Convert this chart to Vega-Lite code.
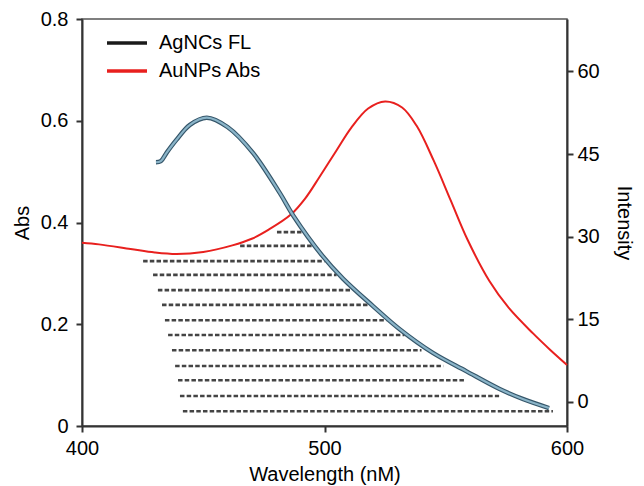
{
  "$schema": "https://vega.github.io/schema/vega-lite/v6.json",
  "width": 485,
  "height": 407,
  "autosize": {"type": "none"},
  "padding": {"left": 82, "top": 19, "right": 77, "bottom": 60},
  "config": {
    "font": "Liberation Sans",
    "view": {"stroke": "#555", "strokeWidth": 1.5},
    "axis": {
      "domainColor": "#333", "domainWidth": 2,
      "tickColor": "#333", "tickWidth": 2, "tickSize": 6,
      "labelFontSize": 20, "titleFontSize": 20, "titleFontWeight": "normal",
      "labelColor": "black", "titleColor": "black", "grid": false
    },
    "legend": {
      "orient": "none", "legendX": 33, "legendY": 12, "padding": 0,
      "labelFontSize": 20, "labelColor": "black", "labelOffset": 20,
      "symbolType": "M-2,0L2,0", "symbolSize": 400, "symbolStrokeWidth": 3.5,
      "rowPadding": 6
    }
  },
  "datasets": {
    "abs": [
      {"series": "AuNPs Abs", "wl": 400, "abs": 0.36},
      {"series": "AuNPs Abs", "wl": 407, "abs": 0.357},
      {"series": "AuNPs Abs", "wl": 420, "abs": 0.348},
      {"series": "AuNPs Abs", "wl": 430, "abs": 0.341},
      {"series": "AuNPs Abs", "wl": 439, "abs": 0.338},
      {"series": "AuNPs Abs", "wl": 450, "abs": 0.342},
      {"series": "AuNPs Abs", "wl": 462, "abs": 0.355},
      {"series": "AuNPs Abs", "wl": 470, "abs": 0.368},
      {"series": "AuNPs Abs", "wl": 477, "abs": 0.386},
      {"series": "AuNPs Abs", "wl": 486, "abs": 0.415},
      {"series": "AuNPs Abs", "wl": 492, "abs": 0.447},
      {"series": "AuNPs Abs", "wl": 498, "abs": 0.49},
      {"series": "AuNPs Abs", "wl": 505, "abs": 0.542},
      {"series": "AuNPs Abs", "wl": 511, "abs": 0.586},
      {"series": "AuNPs Abs", "wl": 518, "abs": 0.624},
      {"series": "AuNPs Abs", "wl": 525, "abs": 0.638},
      {"series": "AuNPs Abs", "wl": 532, "abs": 0.626},
      {"series": "AuNPs Abs", "wl": 538, "abs": 0.59},
      {"series": "AuNPs Abs", "wl": 545, "abs": 0.522},
      {"series": "AuNPs Abs", "wl": 552, "abs": 0.444},
      {"series": "AuNPs Abs", "wl": 559, "abs": 0.366},
      {"series": "AuNPs Abs", "wl": 568, "abs": 0.285},
      {"series": "AuNPs Abs", "wl": 576, "abs": 0.232},
      {"series": "AuNPs Abs", "wl": 586, "abs": 0.182},
      {"series": "AuNPs Abs", "wl": 593, "abs": 0.15},
      {"series": "AuNPs Abs", "wl": 600, "abs": 0.12}
    ],
    "fl": [
      {"wl": 430.5, "int": 43.5},
      {"wl": 432.5, "int": 43.7},
      {"wl": 435, "int": 45.3},
      {"wl": 439, "int": 47.6},
      {"wl": 444.5, "int": 50.3},
      {"wl": 451.5, "int": 51.6},
      {"wl": 460, "int": 49.9},
      {"wl": 470.5, "int": 45.2},
      {"wl": 481.6, "int": 37.9},
      {"wl": 487, "int": 33.9},
      {"wl": 499, "int": 26.6},
      {"wl": 507.6, "int": 22.4},
      {"wl": 520, "int": 17.4},
      {"wl": 531, "int": 13.2},
      {"wl": 544.7, "int": 8.9},
      {"wl": 558.4, "int": 5.6},
      {"wl": 572, "int": 2.4},
      {"wl": 582, "int": 0.5},
      {"wl": 592.6, "int": -1.1}
    ],
    "hatch": [
      {"abs": 0.381, "wl": 480.4, "wl2": 490.5},
      {"abs": 0.354, "wl": 465.2, "wl2": 495.0},
      {"abs": 0.324, "wl": 425.2, "wl2": 500.0},
      {"abs": 0.297, "wl": 429.3, "wl2": 505.0},
      {"abs": 0.267, "wl": 431.3, "wl2": 511.0},
      {"abs": 0.238, "wl": 433.0, "wl2": 518.5},
      {"abs": 0.208, "wl": 434.2, "wl2": 525.5},
      {"abs": 0.179, "wl": 435.5, "wl2": 533.0},
      {"abs": 0.149, "wl": 437.1, "wl2": 540.0},
      {"abs": 0.118, "wl": 438.4, "wl2": 549.0},
      {"abs": 0.090, "wl": 439.6, "wl2": 558.0},
      {"abs": 0.059, "wl": 440.4, "wl2": 572.0},
      {"abs": 0.029, "wl": 441.6, "wl2": 594.2}
    ]
  },
  "encoding": {
    "x": {
      "field": "wl", "type": "quantitative",
      "scale": {"domain": [400, 600], "nice": false},
      "axis": {"values": [400, 500, 600], "title": "Wavelength (nM)", "labelPadding": 6, "titlePadding": 6, "labelFlush": false}
    }
  },
  "layer": [
    {
      "encoding": {
        "y": {
          "field": "abs", "type": "quantitative",
          "scale": {"domain": [0, 0.8], "nice": false},
          "axis": {"orient": "left", "values": [0, 0.2, 0.4, 0.6, 0.8], "format": ".1~f", "title": "Abs", "labelPadding": 8, "titlePadding": 8}
        }
      },
      "layer": [
        {
          "data": {"name": "hatch"},
          "mark": {"type": "rule", "color": "#444", "strokeWidth": 2.6, "strokeDash": [4.5, 2.2]},
          "encoding": {"x2": {"field": "wl2"}}
        },
        {
          "data": {"name": "abs"},
          "mark": {"type": "line", "strokeWidth": 2, "interpolate": "catmull-rom"},
          "encoding": {
            "color": {
              "field": "series", "type": "nominal",
              "scale": {"domain": ["AgNCs FL", "AuNPs Abs"], "range": ["#1a1a1a", "#e8201e"]},
              "legend": {"title": null}
            }
          }
        }
      ]
    },
    {
      "data": {"name": "fl"},
      "encoding": {
        "y": {
          "field": "int", "type": "quantitative",
          "scale": {"domain": [-4.36, 69.5], "nice": false, "zero": false},
          "axis": {"orient": "right", "values": [0, 15, 30, 45, 60], "title": "Intensity", "labelPadding": 4, "titlePadding": 14}
        }
      },
      "layer": [
        {"mark": {"type": "line", "color": "#35566a", "strokeWidth": 4.5, "interpolate": "catmull-rom"}},
        {"mark": {"type": "line", "color": "#8ab4c8", "strokeWidth": 2.2, "interpolate": "catmull-rom"}}
      ]
    }
  ],
  "resolve": {"scale": {"y": "independent"}}
}
